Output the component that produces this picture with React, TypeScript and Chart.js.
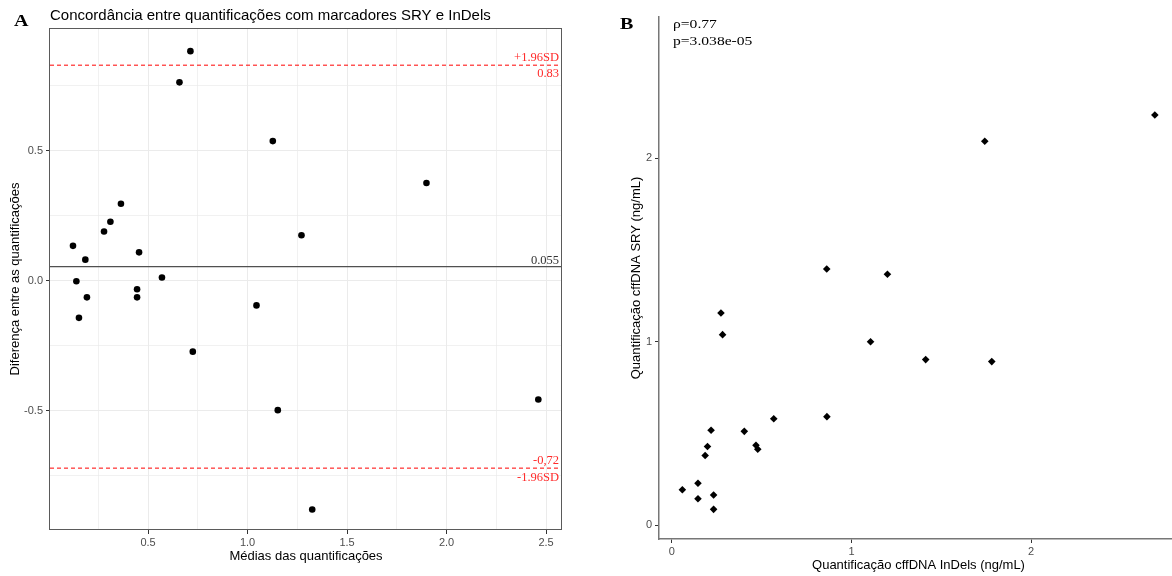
import React, { useEffect, useRef } from 'react';
import { Chart, registerables } from 'chart.js';

Chart.register(...registerables);

const SANS = '"Liberation Sans", Arial, sans-serif';
const SERIF = '"Liberation Serif", "Times New Roman", serif';

// ---------- Panel A: Bland-Altman ----------
const baMeans = [0.123, 0.185, 0.140, 0.193, 0.153, 0.279, 0.311, 0.364, 0.455, 0.445, 0.445, 0.570, 0.725, 1.045, 1.127, 1.271, 1.899, 0.713, 0.658, 1.152, 1.325, 2.461];
const baDiffs = [0.135, 0.082, -0.001, -0.063, -0.142, 0.190, 0.228, 0.297, 0.110, -0.032, -0.063, 0.013, -0.272, -0.094, 0.538, 0.176, 0.377, 0.884, 0.764, -0.497, -0.879, -0.456];
const meanDiff = 0.055;
const upperLoA = 0.83;
const lowerLoA = -0.72;
const meanLabel = '0.055';
const upperLabels = ['+1.96SD', '0.83'];
const lowerLabels = ['-0,72', '-1.96SD'];
const aXRange = [0.0075, 2.58];
const aYRange = [-0.958, 0.973];
const aTitle = 'Concordância entre quantificações com marcadores SRY e InDels';
const aXTitle = 'Médias das quantificações';
const aYTitle = 'Diferença entre as quantificações';

// ---------- Panel B: correlation ----------
const indels = [0.862, 1.200, 0.273, 0.282, 1.106, 1.413, 1.781, 0.863, 0.567, 0.403, 0.468, 0.478, 0.218, 0.198, 0.185, 0.058, 0.145, 0.145, 0.232, 0.232, 1.742, 2.689];
const sry = [1.397, 1.368, 1.157, 1.039, 1.000, 0.903, 0.892, 0.592, 0.581, 0.512, 0.436, 0.414, 0.518, 0.429, 0.380, 0.194, 0.229, 0.145, 0.165, 0.087, 2.093, 2.236];
const bXRange = [-0.072, 2.818];
const bYRange = [-0.0747, 2.77];
const bXTitle = 'Quantificação cffDNA InDels (ng/mL)';
const bYTitle = 'Quantificação cffDNA SRY (ng/mL)';
const statLines = ['ρ=0.77', 'p=3.038e-05'];

const isMult = (v: number, step: number) => Math.abs(v / step - Math.round(v / step)) < 1e-6;

function drawText(ctx: CanvasRenderingContext2D, text: string, x: number, y: number, font: string, color: string, align: CanvasTextAlign = 'left', sx = 1) {
  ctx.save();
  ctx.font = font;
  ctx.fillStyle = color;
  ctx.textBaseline = 'alphabetic';
  ctx.textAlign = align;
  ctx.translate(x, y);
  ctx.scale(sx, 1);
  ctx.fillText(text, 0, 0);
  ctx.restore();
}

export default function App() {
  const refA = useRef<HTMLCanvasElement>(null);
  const refB = useRef<HTMLCanvasElement>(null);

  useEffect(() => {
    const tickFont = { family: SANS, size: 11 };
    const titleFont = { family: SANS, size: 13 };

    const panelAPlugin = {
      id: 'panelA',
      afterDraw(chart: any) {
        const { ctx, chartArea } = chart;
        const { left, top, right, bottom } = chartArea;
        const y = chart.scales.y;
        ctx.save();
        ctx.strokeStyle = '#5a5a5a';
        ctx.lineWidth = 1;
        ctx.strokeRect(Math.round(left) - 0.5, Math.round(top) + 0.5, Math.round(right - left), Math.round(bottom - top) - 1);
        ctx.restore();
        const lx = right - 3;
        const red = '#ff2a2a';
        const lf = '12.5px ' + SERIF;
        const pu = y.getPixelForValue(upperLoA);
        drawText(ctx, upperLabels[0], lx, pu - 4, lf, red, 'right');
        drawText(ctx, upperLabels[1], lx, pu + 11.5, lf, red, 'right');
        const pl = y.getPixelForValue(lowerLoA);
        drawText(ctx, lowerLabels[0], lx, pl - 4.5, lf, red, 'right');
        drawText(ctx, lowerLabels[1], lx, pl + 13, lf, red, 'right');
        const pm = y.getPixelForValue(meanDiff);
        drawText(ctx, meanLabel, lx, pm - 3, lf, '#333', 'right');
        drawText(ctx, 'A', 14, 25.5, 'bold 16px ' + SERIF, '#000', 'left', 1.25);
        drawText(ctx, aTitle, 50, 20, '15px ' + SANS, '#000', 'left');
      },
    };

    const hline = (v: number, color: string, width: number, dash: number[]) => ({
      data: [{ x: aXRange[0], y: v }, { x: aXRange[1], y: v }],
      showLine: true,
      borderColor: color,
      borderWidth: width,
      borderDash: dash,
      pointRadius: 0,
      pointHoverRadius: 0,
      fill: false,
    });

    const chartA = new Chart(refA.current!, {
      type: 'scatter',
      data: {
        datasets: [
          {
            data: baMeans.map((x, i) => ({ x, y: baDiffs[i] })),
            backgroundColor: '#000',
            borderWidth: 0,
            pointRadius: 3.3,
          } as any,
          hline(meanDiff, '#505050', 1.4, []),
          hline(upperLoA, '#ff0000', 1, [4, 3]),
          hline(lowerLoA, '#ff0000', 1, [4, 3]),
        ],
      },
      options: {
        animation: false,
        responsive: false,
        events: [],
        layout: { padding: { left: 0, top: 28, right: 18, bottom: 0 } },
        plugins: { legend: { display: false }, tooltip: { enabled: false } },
        scales: {
          x: {
            type: 'linear',
            min: aXRange[0],
            max: aXRange[1],
            afterFit: (s: any) => { s.height = 46; },
            border: { display: false },
            grid: {
              color: '#ebebeb',
              lineWidth: (c: any) => (c.tick && isMult(c.tick.value, 0.5) ? 1 : 0.7),
              tickColor: (c: any) => (c.tick && isMult(c.tick.value, 0.5) ? '#333' : 'rgba(0,0,0,0)'),
              tickLength: 4,
              tickWidth: 1,
            },
            ticks: {
              stepSize: 0.25,
              includeBounds: false,
              autoSkip: false,
              maxRotation: 0,
              color: '#4d4d4d',
              font: tickFont,
              padding: 2,
              callback: (v: any) => (isMult(Number(v), 0.5) ? Number(v).toFixed(1) : ''),
            },
            title: { display: true, text: aXTitle, color: '#000', font: titleFont, padding: { top: 0, bottom: 12 } },
          },
          y: {
            type: 'linear',
            min: aYRange[0],
            max: aYRange[1],
            afterFit: (s: any) => { s.width = 50; },
            border: { display: false },
            grid: {
              color: '#ebebeb',
              lineWidth: (c: any) => (c.tick && isMult(c.tick.value, 0.5) ? 1 : 0.7),
              tickColor: (c: any) => (c.tick && isMult(c.tick.value, 0.5) ? '#333' : 'rgba(0,0,0,0)'),
              tickLength: 4,
              tickWidth: 1,
            },
            ticks: {
              stepSize: 0.25,
              includeBounds: false,
              autoSkip: false,
              color: '#4d4d4d',
              font: tickFont,
              padding: 3,
              callback: (v: any) => (isMult(Number(v), 0.5) ? Number(v).toFixed(1) : ''),
            },
            title: { display: true, text: aYTitle, color: '#000', font: titleFont, padding: { top: 8, bottom: 0 } },
          },
        },
      },
      plugins: [panelAPlugin],
    } as any);

    const panelBPlugin = {
      id: 'panelB',
      afterDraw(chart: any) {
        const { ctx } = chart;
        drawText(ctx, 'B', 40, 29, 'bold 16px ' + SERIF, '#000', 'left', 1.25);
        drawText(ctx, statLines[0], 93, 27.7, '13px ' + SERIF, '#000', 'left', 1.2);
        drawText(ctx, statLines[1], 93, 45, '13px ' + SERIF, '#000', 'left', 1.2);
      },
    };

    const chartB = new Chart(refB.current!, {
      type: 'scatter',
      data: {
        datasets: [
          {
            data: indels.map((x, i) => ({ x, y: sry[i] })),
            backgroundColor: '#000',
            borderWidth: 0,
            pointStyle: 'rectRot',
            pointRadius: 3.8,
          } as any,
        ],
      },
      options: {
        animation: false,
        responsive: false,
        events: [],
        layout: { padding: { left: 0, top: 17, right: 0, bottom: 0 } },
        plugins: { legend: { display: false }, tooltip: { enabled: false } },
        scales: {
          x: {
            type: 'linear',
            min: bXRange[0],
            max: bXRange[1],
            afterFit: (s: any) => { s.height = 37; },
            border: { display: true, color: '#777', width: 1.5 },
            grid: { drawOnChartArea: false, drawTicks: true, tickLength: 4, tickColor: '#333', tickWidth: 1 },
            ticks: { stepSize: 1, includeBounds: false, autoSkip: false, maxRotation: 0, color: '#4d4d4d', font: tickFont, padding: 2, callback: (v: any) => String(v) },
            title: { display: true, text: bXTitle, color: '#000', font: titleFont, padding: { top: 0, bottom: 3 } },
          },
          y: {
            type: 'linear',
            min: bYRange[0],
            max: bYRange[1],
            afterFit: (s: any) => { s.width = 79; },
            border: { display: true, color: '#777', width: 1.5 },
            grid: { drawOnChartArea: false, drawTicks: true, tickLength: 4, tickColor: '#333', tickWidth: 1 },
            ticks: { stepSize: 1, includeBounds: false, autoSkip: false, color: '#4d4d4d', font: tickFont, padding: 3, callback: (v: any) => String(v) },
            title: { display: true, text: bYTitle, color: '#000', font: titleFont, padding: { top: 49, bottom: 0 } },
          },
        },
      },
      plugins: [panelBPlugin],
    } as any);

    return () => {
      chartA.destroy();
      chartB.destroy();
    };
  }, []);

  return (
    <div style={{ position: 'fixed', left: 0, top: 0, width: 1172, height: 576, overflow: 'hidden', background: '#fff' }}>
      <canvas ref={refA} width={580} height={576} style={{ position: 'absolute', left: 0, top: 0 }} />
      <canvas ref={refB} width={602} height={576} style={{ position: 'absolute', left: 580, top: 0 }} />
    </div>
  );
}
